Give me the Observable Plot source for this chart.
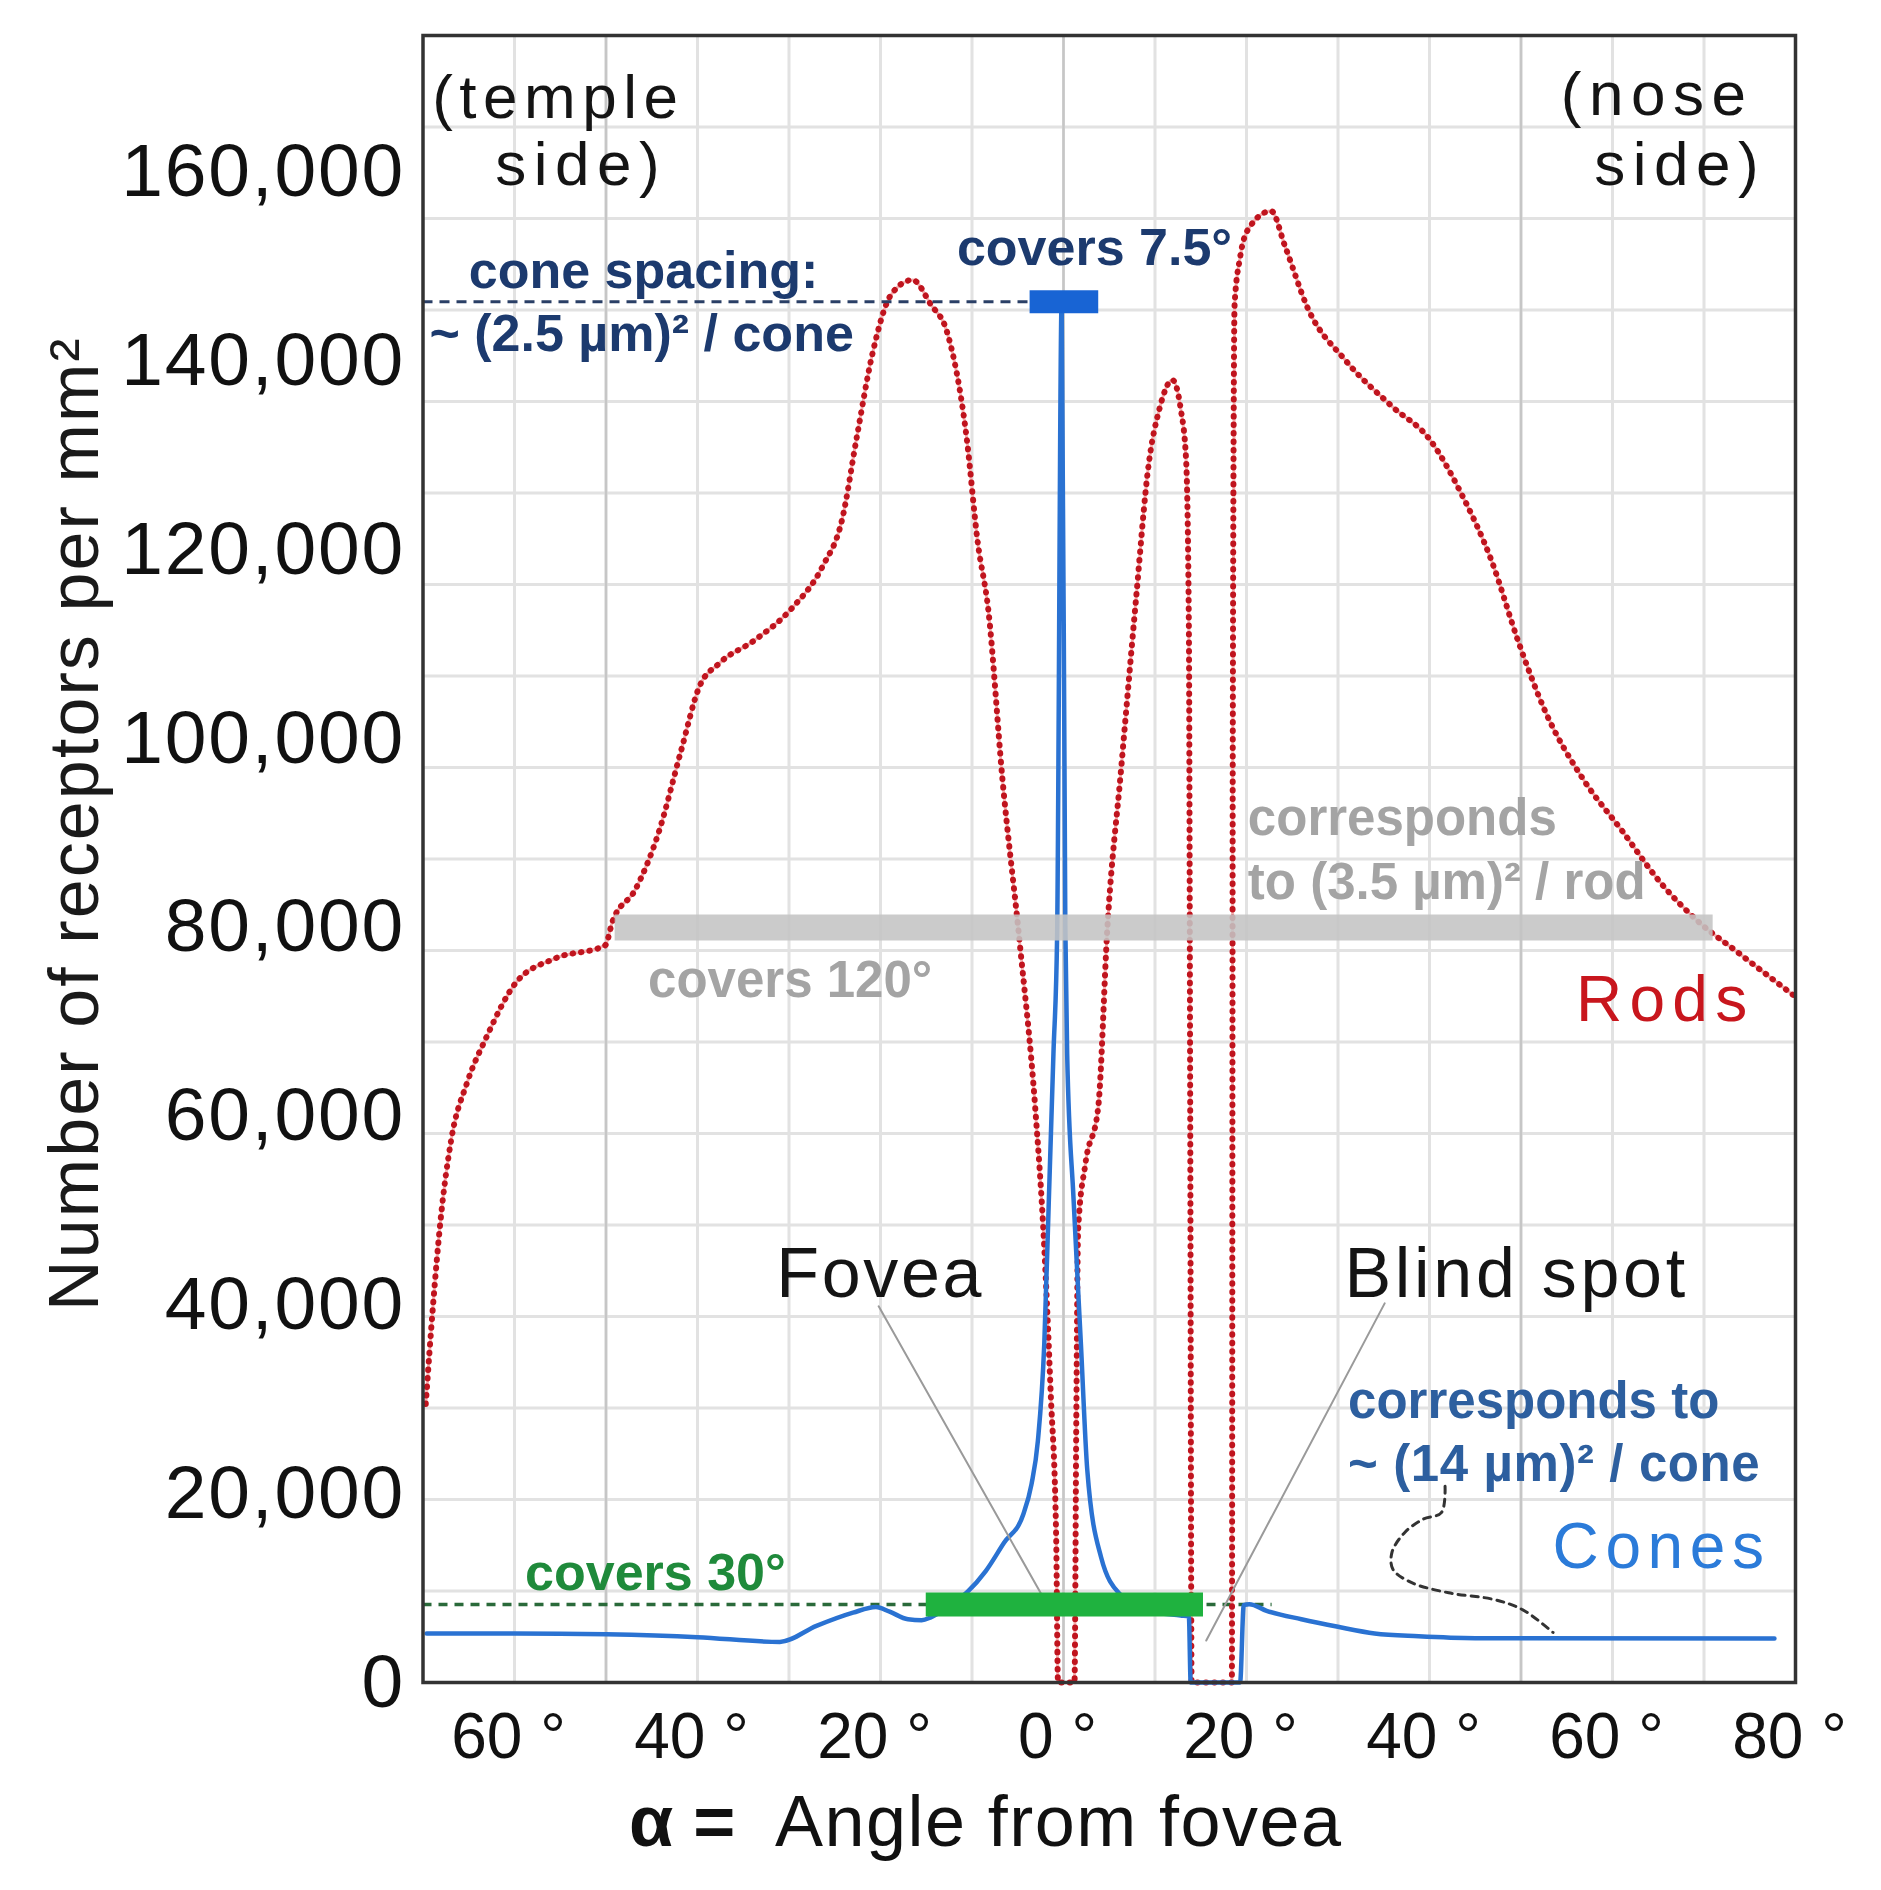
<!DOCTYPE html>
<html>
<head>
<meta charset="utf-8">
<script src="https://cdn.jsdelivr.net/npm/d3@7"></script>
<script src="https://cdn.jsdelivr.net/npm/@observablehq/plot@0.6"></script>
<style>
  html, body { margin: 0; padding: 0; background: #ffffff; }
  #chart { position: relative; width: 1881px; height: 1890px; background: #ffffff; }
  #chart svg { position: absolute; left: 0; top: 0; }
</style>
</head>
<body>
<div id="chart"></div>
<script>
// ---------------- data ----------------
// Rods: angle from fovea (deg, negative = temple side) and receptors per mm²
const rodAngle = [-69.7, -68.9, -68.1, -66.9, -65.2, -63.1, -59.8, -55.6, -50.1, -49.3, -46.8, -44.3, -41.8, -39.8, -37.6, -33.8, -29.7, -26.3, -24.2, -22.6, -20.9, -18.8, -16.5, -14.5, -12.7, -10.6, -9.4, -8.2, -6.7, -4.8, -3.1, -2.1, -1.4, -0.8, -0.6, 1.2, 1.4, 1.6, 2.4, 3.8, 4.8, 6.3, 7.9, 9.3, 10.5, 11.9, 12.8, 13.4, 13.7, 13.85, 14.0, 18.4, 18.5, 18.7, 19.3, 20.2, 22.7, 24.2, 26.7, 30.8, 35.9, 40.1, 43.4, 46.8, 49.7, 52.6, 56.8, 61.0, 65.2, 69.4, 73.5, 79.8];
const rodDensity = [29500, 40000, 48800, 57600, 63500, 68300, 74200, 76700, 78100, 80600, 84000, 89900, 98700, 105500, 108000, 110400, 113800, 118300, 123200, 131900, 140700, 147100, 148600, 146000, 143000, 132000, 121000, 113500, 96000, 78500, 61000, 46100, 30700, 15300, 0, 0, 28000, 48000, 55000, 61000, 80000, 96800, 114500, 129000, 135000, 138000, 135000, 129500, 112000, 60000, 0, 0, 100000, 146000, 151000, 154000, 155900, 152200, 145600, 140100, 135200, 131600, 126100, 118800, 110300, 103000, 95700, 90300, 84800, 80600, 77500, 72800];

// Cones
const coneAngle = [-69.6, -60, -50, -40, -31, -27, -23, -20.5, -19, -17, -15.5, -14.5, -12.5, -10.5, -8.5, -6.5, -4.4, -3.5, -2.8, -2.1, -1.6, -1.1, -0.7, -0.2, 0.2, 0.4, 1.1, 1.9, 2.6, 4.1, 6.3, 9.2, 12.8, 13.7, 13.9, 19.3, 19.7, 20.3, 22.2, 26, 30, 34, 38.8, 45, 77.7];
const coneDensity = [5200, 5200, 5100, 4800, 4300, 6000, 7400, 8000, 7500, 6700, 6600, 6900, 8100, 9600, 11800, 14800, 17800, 21000, 25600, 35900, 51200, 66600, 79000, 146300, 80000, 66600, 51200, 35900, 22500, 13300, 9200, 7600, 7100, 7000, 0, 0, 8200, 8300, 7600, 6700, 5900, 5200, 4900, 4700, 4650];

// Axis ticks
const yTicks = [0, 20000, 40000, 60000, 80000, 100000, 120000, 140000, 160000];
const xTicks = [-60, -40, -20, 0, 20, 40, 60, 80];
// Background grid (the original chart's grid: every 10° and every 10,000 of its own 0–180,000 scale)
const gridAngles = [-60, -50, -40, -30, -20, -10, 0, 10, 20, 30, 40, 50, 60, 70];
const majorGridAngles = [-50, 0, 50];
const gridLevels = [10000, 20000, 30000, 40000, 50000, 60000, 70000, 80000, 90000, 100000, 110000, 120000, 130000, 140000, 150000, 160000, 170000];

// Coverage bars: start angle, end angle, density level
const barName  = ["cones 7.5°", "rods 120°", "cones 30°"];
const barFrom  = [-3.65, -49, -15.0];
const barTo    = [3.85, 71, 15.3];
const barLevel = [146300, 80000, 8270];

// Dashed reference lines (angle from, angle to, density)
const refFrom  = [-70, -70];
const refTo    = [-3.65, 22.8];
const refLevel = [146300, 8270];

// Leader lines (angle, density)
const foveaLeaderA = [-20.2, -2.37];
const foveaLeaderD = [39860, 9260];
const blindLeaderA = [35.1, 15.6];
const blindLeaderD = [40170, 4450];
const curlA = [41.7, 41.3, 39.3, 37.3, 35.9, 36.0, 38.0, 42.1, 47.0, 50.2, 53.5];
const curlD = [20800, 18000, 17300, 15900, 13800, 12000, 10600, 9500, 8800, 7700, 5300];

// ---------------- build tables ----------------
const rods = rodAngle.map((a, i) => ({a, d: rodDensity[i]}));
const cones = coneAngle.map((a, i) => ({a, d: coneDensity[i]}));
const bars = barName.map((n, i) => ({n, x1: barFrom[i], x2: barTo[i], y: barLevel[i]}));
const refs = refFrom.map((f, i) => ({x1: f, x2: refTo[i], y: refLevel[i]}));
const foveaLeader = foveaLeaderA.map((a, i) => ({a, d: foveaLeaderD[i]}));
const blindLeader = blindLeaderA.map((a, i) => ({a, d: blindLeaderD[i]}));
const curl = curlA.map((a, i) => ({a, d: curlD[i]}));

// ---------------- layout ----------------
const W = 1881, H = 1890;
const M = {marginLeft: 422.5, marginRight: 86, marginTop: 35, marginBottom: 208};
const FONT = "'Liberation Sans', Arial, Helvetica, sans-serif";
const xDomain = [-70, 80];

const navy = "#1c3a6e", grayTxt = "#a4a4a4", greenTxt = "#1f8a3b", steel = "#2d5f9f";

const txt = (rows, opts) => Plot.text(rows, {x: "a", y: "d", text: "t", textAnchor: "start", lineAnchor: "middle", ...opts});

// Background grid plot
const gridPlot = Plot.plot({
  width: W, height: H, ...M,
  x: {domain: xDomain, axis: null},
  y: {domain: [0, 180000], axis: null},
  style: {background: "transparent"},
  marks: [
    Plot.gridX(gridAngles, {stroke: "#e2e2e2", strokeOpacity: 1, strokeWidth: 3}),
    Plot.gridY(gridLevels, {stroke: "#e2e2e2", strokeOpacity: 1, strokeWidth: 3}),
    Plot.gridX(majorGridAngles, {stroke: "#c6c6c6", strokeOpacity: 1, strokeWidth: 2.5})
  ]
});

// Main plot
const mainPlot = Plot.plot({
  width: W, height: H, ...M,
  x: {domain: xDomain},
  y: {domain: [0, 174500]},
  style: {background: "transparent", fontFamily: FONT, color: "#111", overflow: "visible"},
  marks: [
    // green dashed reference line
    Plot.ruleY(refs.slice(1), {y: "y", x1: "x1", x2: "x2", stroke: "#2a6a3a", strokeWidth: 3.5, strokeDasharray: "9,7"}),
    // rods (dotted red)
    Plot.line(rods, {x: "a", y: "d", curve: "monotone-x", stroke: "#f5b0b0", strokeWidth: 3}),
    Plot.line(rods, {x: "a", y: "d", curve: "monotone-x", stroke: "#c0141e", strokeWidth: 6, strokeLinecap: "round", strokeDasharray: "0.5,8"}),
    // cones
    Plot.line(cones, {x: "a", y: "d", curve: "monotone-x", stroke: "#2a72d2", strokeWidth: 4.5}),
    // navy dashed reference line
    Plot.ruleY(refs.slice(0, 1), {y: "y", x1: "x1", x2: "x2", stroke: "#2a3f66", strokeWidth: 3, strokeDasharray: "10,7"}),
    // leaders
    Plot.line(foveaLeader, {x: "a", y: "d", stroke: "#9a9a9a", strokeWidth: 2}),
    Plot.line(blindLeader, {x: "a", y: "d", stroke: "#9a9a9a", strokeWidth: 2}),
    Plot.line(curl, {x: "a", y: "d", curve: "catmull-rom", stroke: "#333", strokeWidth: 3, strokeDasharray: "7,6"}),
    // coverage bars
    Plot.ruleY(bars.filter(b => b.n === "rods 120°"), {y: "y", x1: "x1", x2: "x2", stroke: "#c4c4c4", strokeOpacity: 0.88, strokeWidth: 26}),
    Plot.ruleY(bars.filter(b => b.n === "cones 30°"), {y: "y", x1: "x1", x2: "x2", stroke: "#1fb23f", strokeWidth: 24}),
    Plot.ruleY(bars.filter(b => b.n === "cones 7.5°"), {y: "y", x1: "x1", x2: "x2", stroke: "#1864d4", strokeWidth: 23}),
    // axes
    Plot.axisY(yTicks, {tickSize: 0, tickPadding: 18, tickFormat: d3.format(","), fontSize: 75, label: null}),
    Plot.axisX(xTicks, {tickSize: 0, tickPadding: 30, tickFormat: d => `${Math.abs(d)} °`, fontSize: 64, dx: -6, label: null}),
    // axis titles
    Plot.text([{t: "Number of receptors per mm²", a: -108, d: 91000}],
      {x: "a", y: "d", text: "t", rotate: -90, textAnchor: "middle", lineAnchor: "middle", fontSize: 70, fill: "#1a1a1a"}),
    Plot.text(["α ="], {text: d => d, frameAnchor: "bottom-left", dx: 206, dy: 140, textAnchor: "start", lineAnchor: "middle", fontSize: 72, fontWeight: "bold", fill: "#111"}),
    Plot.text(["Angle from fovea"], {text: d => d, frameAnchor: "bottom-left", dx: 352, dy: 140, textAnchor: "start", lineAnchor: "middle", fontSize: 72, fill: "#111"}),
    // side labels
    txt([{t: "(temple", a: -69.0, d: 167900}, {t: "side)", a: -62.1, d: 160800},
         {t: "(nose", a: 54.35, d: 168200}, {t: "side)", a: 58.0, d: 160800}],
        {fontSize: 62, fill: "#141414"}),
    // navy annotations
    txt([{t: "cone spacing:", a: -65.0, d: 149500}, {t: "~ (2.5 µm)² / cone", a: -69.3, d: 142800},
         {t: "covers 7.5°", a: -11.65, d: 151900}],
        {fontSize: 52, fontWeight: "bold", fill: navy}),
    // gray annotations
    txt([{t: "corresponds", a: 20.15, d: 91500}, {t: "to (3.5 µm)² / rod", a: 20.15, d: 84700},
         {t: "covers 120°", a: -45.4, d: 74400}],
        {fontSize: 51, fontWeight: "bold", fill: grayTxt}),
    // green annotation
    txt([{t: "covers 30°", a: -58.85, d: 11550}], {fontSize: 52, fontWeight: "bold", fill: greenTxt}),
    // steel blue annotation
    txt([{t: "corresponds to", a: 31.1, d: 29800}, {t: "~ (14 µm)² / cone", a: 31.1, d: 23100}],
        {fontSize: 51, fontWeight: "bold", fill: steel}),
    // series labels
    txt([{t: "Rods", a: 56.0, d: 72300}], {fontSize: 64, fill: "#c8161d"}),
    txt([{t: "Cones", a: 53.45, d: 14300}], {fontSize: 64, fill: "#2b7bd9"}),
    txt([{t: "Fovea", a: -31.4, d: 43200}, {t: "Blind spot", a: 30.7, d: 43200}], {fontSize: 70, fill: "#141414"}),
    Plot.frame({stroke: "#333", strokeWidth: 3.5})
  ]
});

// letter-spacing of the (widely set) texts of the original
const spacing = new Map([
  ["(temple", 6.5], ["side)", 7.5], ["(nose", 7.5],
  ["Fovea", 2.7], ["Blind spot", 3.7], ["Rods", 7.3], ["Cones", 6.6],
  ["Angle from fovea", 1.45], ["Number of receptors per mm²", 2.1],
  ["~ (14 µm)² / cone", 0.6]
]);
mainPlot.querySelectorAll("text").forEach(t => {
  const s = spacing.get(t.textContent);
  if (s != null) t.style.letterSpacing = s + "px";
});
mainPlot.querySelectorAll('[aria-label="y-axis tick label"] text').forEach(t => { t.style.letterSpacing = "1.8px"; });

const chart = document.getElementById("chart");
chart.appendChild(gridPlot);
chart.appendChild(mainPlot);
</script>
</body>
</html>
